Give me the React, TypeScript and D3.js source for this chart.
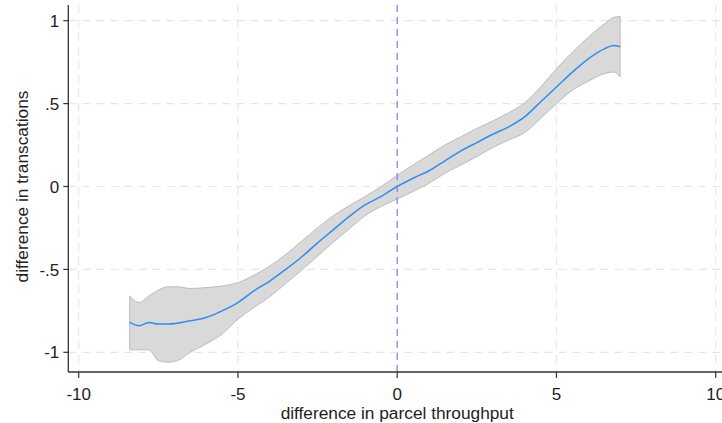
import React from 'react';
import * as d3 from 'd3';

// lpoly-style fit
const xVals = [-8.4, -8.1, -7.8, -7.5, -7.2, -6.9, -6.5, -6.0, -5.5, -5.0, -4.5, -4.0, -3.5, -3.0, -2.5, -2.0, -1.5, -1.0, -0.5, 0, 0.5, 1.0, 1.5, 2.0, 2.5, 3.0, 3.5, 4.0, 4.5, 5.0, 5.5, 6.0, 6.5, 6.8, 7.0];
const fitVals = [-0.82, -0.84, -0.82, -0.83, -0.83, -0.825, -0.81, -0.79, -0.75, -0.7, -0.63, -0.57, -0.5, -0.425, -0.34, -0.26, -0.18, -0.11, -0.06, 0.0, 0.05, 0.095, 0.155, 0.215, 0.265, 0.315, 0.36, 0.42, 0.51, 0.6, 0.69, 0.77, 0.83, 0.85, 0.843];
const upperVals = [-0.66, -0.7, -0.66, -0.625, -0.605, -0.605, -0.615, -0.61, -0.6, -0.58, -0.535, -0.48, -0.41, -0.33, -0.25, -0.175, -0.115, -0.06, 0.0, 0.068, 0.13, 0.19, 0.25, 0.3, 0.35, 0.395, 0.445, 0.505, 0.6, 0.71, 0.81, 0.9, 0.98, 1.02, 1.025];
const lowerVals = [-0.985, -0.985, -0.985, -1.05, -1.06, -1.05, -1.0, -0.95, -0.89, -0.8, -0.73, -0.665, -0.585, -0.505, -0.42, -0.335, -0.255, -0.175, -0.12, -0.075, -0.03, 0.02, 0.08, 0.13, 0.18, 0.235, 0.28, 0.325, 0.41, 0.5, 0.58, 0.635, 0.68, 0.69, 0.66];

const xTicks = [-10, -5, 0, 5, 10];
const yTicks = [-1, -0.5, 0, 0.5, 1];
const yTickLabels = ['-1', '-.5', '0', '.5', '1'];

const W = 722;
const H = 423;
const font = '"Liberation Sans", Arial, sans-serif';

const App = () => {
  const x = d3.scaleLinear().domain([-10, 10]).range([78.7, 715.7]);
  const y = d3.scaleLinear().domain([-1, 1]).range([352.3, 20.7]);
  const left = 68.3, bottom = 372, top = 5;

  const rows = xVals.map((v, i) => ({ x: v, fit: fitVals[i], hi: upperVals[i], lo: lowerVals[i] }));

  const area = d3.area<any>()
    .x(d => x(d.x))
    .y0(d => y(d.lo))
    .y1(d => y(d.hi))
    .curve(d3.curveMonotoneX);
  const line = d3.line<any>()
    .x(d => x(d.x))
    .y(d => y(d.fit))
    .curve(d3.curveMonotoneX);

  return (
    <svg width={W} height={H} style={{ position: 'absolute', left: 0, top: 0, background: '#fff' }} fontFamily={font}>
      {/* grid */}
      {yTicks.map(t => (
        <line key={'gy' + t} x1={left} x2={W} y1={y(t)} y2={y(t)} stroke="#e6e6e6" strokeWidth={1.2} strokeDasharray="8,6" />
      ))}
      {xTicks.filter(t => t !== 0).map(t => (
        <line key={'gx' + t} x1={x(t)} x2={x(t)} y1={top} y2={bottom} stroke="#e6e6e6" strokeWidth={1.2} strokeDasharray="8,6" />
      ))}

      {/* confidence band */}
      <path d={area(rows) + 'Z'} fill="#d9d9d9" stroke="#bcbcbc" strokeWidth={1} />
      <path d={line(rows) || ''} fill="none" stroke="#2f8cf0" strokeWidth={1.5} />

      {/* reference line at 0 */}
      <line x1={x(0)} x2={x(0)} y1={top} y2={bottom} stroke="#8585ee" strokeWidth={1.3} strokeDasharray="7,5" />

      {/* axes */}
      <line x1={left} x2={left} y1={top} y2={bottom} stroke="#333" strokeWidth={1.3} />
      <line x1={left} x2={W} y1={bottom} y2={bottom} stroke="#333" strokeWidth={1.3} />
      {yTicks.map((t, i) => (
        <g key={'ty' + t}>
          <line x1={left - 5} x2={left} y1={y(t)} y2={y(t)} stroke="#333" strokeWidth={1.2} />
          <text x={left - 9} y={y(t)} dy="0.36em" textAnchor="end" fontSize={17} fill="#222">{yTickLabels[i]}</text>
        </g>
      ))}
      {xTicks.map(t => (
        <g key={'tx' + t}>
          <line x1={x(t)} x2={x(t)} y1={bottom} y2={bottom + 6} stroke="#333" strokeWidth={1.2} />
          <text x={x(t)} y={399.5} textAnchor="middle" fontSize={17} fill="#222">{t}</text>
        </g>
      ))}
      <text x={x(0)} y={419} textAnchor="middle" fontSize={17.3} fill="#222">difference in parcel throughput</text>
      <text transform={`translate(28,${y(0)}) rotate(-90)`} textAnchor="middle" fontSize={17.3} fill="#222">difference in transcations</text>
    </svg>
  );
};

export default App;
